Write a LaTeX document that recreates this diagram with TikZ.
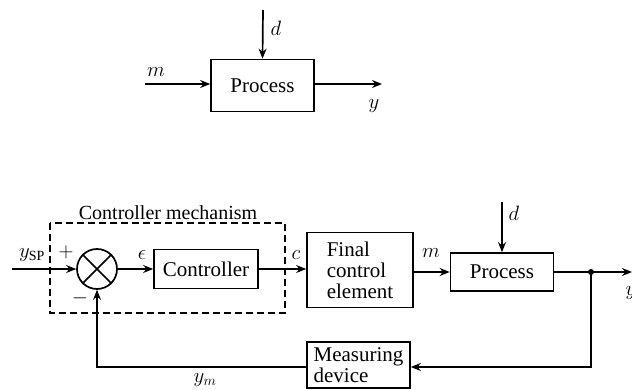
\documentclass[tikz,border=0pt]{standalone}
\usepackage{fontspec}
\setmainfont{Liberation Serif}
\usetikzlibrary{arrows.meta}
\begin{document}
\begin{tikzpicture}[x=1pt,y=-1pt,
  line width=1.7pt,
  >={Stealth[length=10pt,width=8pt]},
  blk/.style={draw,line width=1.7pt,inner sep=0pt,font=\fontsize{21}{21}\selectfont},
  lbl/.style={font=\fontsize{20}{21}\selectfont},
  sym/.style={font=\fontsize{20}{21}\selectfont}]
\useasboundingbox (0,0) rectangle (632,390);
% ---- top diagram ----
\node[blk,minimum width=103pt,minimum height=52pt] (p1) at (262.5,85.5) {Process};
\coordinate (d1s) at (263,10);
\coordinate (m1s) at (145,84);
\coordinate (y1e) at (382,84);
\draw[->] (d1s) -- (p1.north);
\draw[->] (m1s) -- (m1s -| p1.west);
\draw[->] (p1.east |- y1e) -- (y1e);
\node[sym] (d1) at (276,28) {$d$};
\node[sym] (m1) at (156,72) {$m$};
\node[sym] (y1) at (374,106) {$y$};
% ---- bottom diagram ----
\node[lbl] (cmlab) at (168,213) {Controller mechanism};
\draw[dashed,dash pattern=on 7pt off 4pt,line width=1.5pt] (50,223) rectangle (285,313);
\node[draw,circle,minimum size=40pt,inner sep=0pt,line width=1.7pt] (sum) at (97,269) {};
\draw (sum.north east) -- (sum.south west) (sum.north west) -- (sum.south east);
\node[blk,minimum width=104pt,minimum height=39pt] (ctrl) at (206,269) {Controller};
\node[blk,minimum width=106pt,minimum height=75pt,align=left] (fce) at (360,270)
  {Final\\control\\element};
\node[blk,minimum width=103pt,minimum height=38pt] (p2) at (502,272) {Process};
\node[blk,minimum width=103pt,minimum height=46pt,align=left] (meas) at (358.5,365)
  {Measuring\\device};
\coordinate (ysp) at (12,269);
\coordinate (d2s) at (502,202);
\coordinate (yout) at (632,272);
\coordinate (fbb) at (591,367);
\coordinate (fbl) at (97,367);
\draw[->] (ysp) -- (sum.west);
\draw[->] (sum.east) -- (ctrl.west);
\draw[->] (ctrl.east) -- (ctrl.east -| fce.west);
\draw[->] (fce.east |- p2.west) -- (p2.west);
\draw[->] (d2s) -- (p2.north);
\draw[->] (p2.east) -- (yout);
\node[circle,fill,inner sep=0pt,minimum size=6pt] (jn) at (591,272) {};
\draw[->] (jn.center) -- (fbb) -- (fbb -| meas.east);
\draw[->] (meas.west |- fbl) -- (fbl) -- (sum.south);
\node[sym] (yspl) at (32,255) {$y_{\mathrm{SP}}$};
\node[sym] (plus) at (66,252) {$+$};
\node[sym] (minus) at (80,298) {$-$};
\node[sym] (eps) at (142,255) {$\epsilon$};
\node[sym] (cl) at (296,255) {$c$};
\node[sym] (m2) at (431,253) {$m$};
\node[sym] (d2) at (514,213) {$d$};
\node[sym] (ym) at (205,380) {$y_m$};
\node[sym] (y2) at (631,293) {$y$};
\end{tikzpicture}
\end{document}
